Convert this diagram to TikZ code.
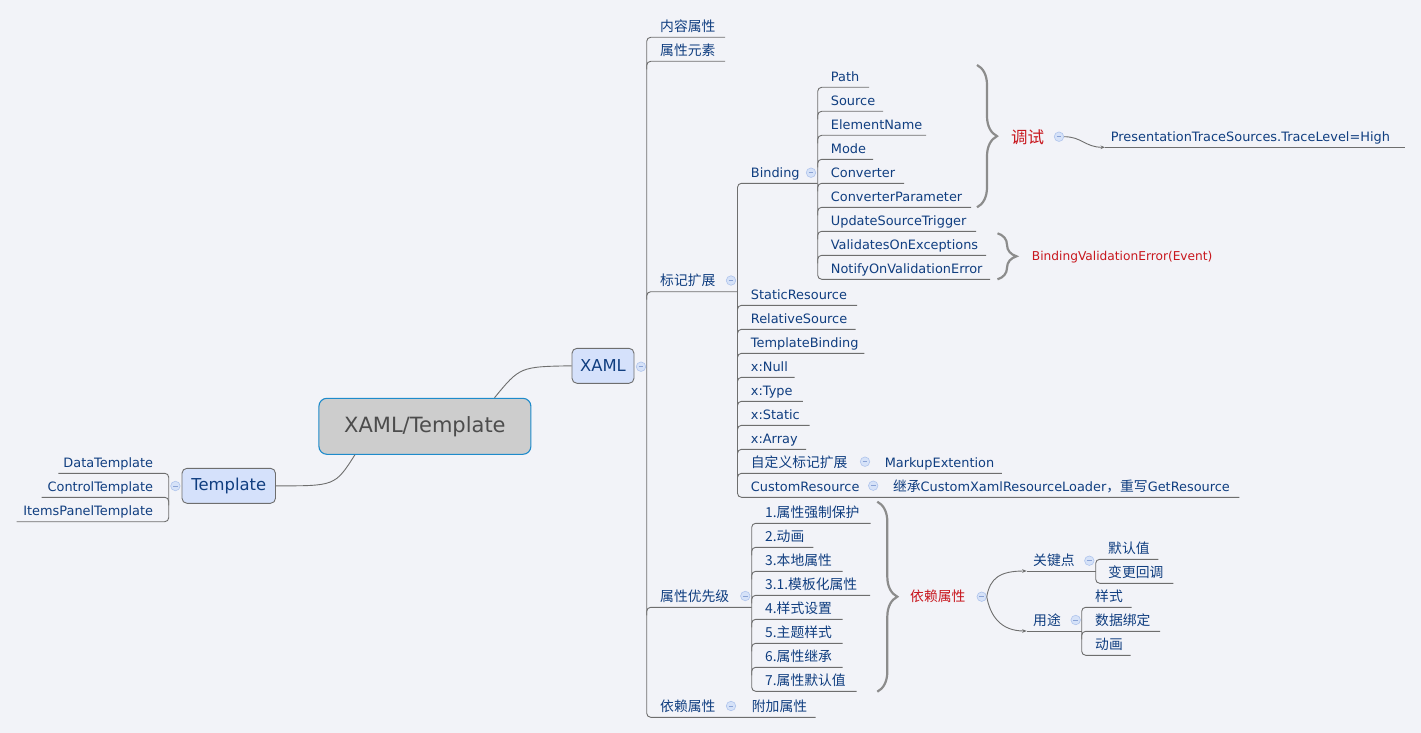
\documentclass[tikz,border=0pt]{standalone}
\usepackage{fontspec}
\setmainfont{DejaVu Sans}
\newfontfamily\cjk{Noto Sans CJK SC}
\usetikzlibrary{arrows.meta,decorations.pathreplacing,calc}
\definecolor{bgc}{HTML}{F2F3F8}
\definecolor{txc}{HTML}{103E80}
\definecolor{lnc}{HTML}{6E6E6E}
\definecolor{rdc}{HTML}{C8161D}
\definecolor{cfill}{HTML}{D6E2F8}
\definecolor{cdraw}{HTML}{AFC4EC}
\definecolor{cminus}{HTML}{8AA3D6}
\definecolor{bxfill}{HTML}{D5E1FB}
\definecolor{cbfill}{HTML}{CDCDCD}
\definecolor{cbdraw}{HTML}{1E8BCB}
\definecolor{brc}{HTML}{8C8C8C}
\newcommand\zhs{\cjk\fontsize{13.8}{16}\selectfont}
\newcommand\lts{\fontsize{12.9}{15}\selectfont}
% leaf: name, spine x, text x, underline y, end x, text
\newcommand\lf[6]{\node[leaf] (#1) at (#3,#4-6) {#6};
  \coordinate (#1s) at (#2,#4); \coordinate (#1m) at (#2,#4+8); \coordinate (#1e) at (#5,#4);}
\newcommand\lfl[6]{\node[leafl] (#1) at (#3,#4-6) {#6};
  \coordinate (#1s) at (#2,#4); \coordinate (#1m) at (#2,#4+8); \coordinate (#1e) at (#5,#4);}
\begin{document}
\begin{tikzpicture}[x=1pt,y=-1pt,
  leaf/.style={anchor=base west, inner sep=0pt, text=txc, font=\lts},
  leafl/.style={leaf, anchor=base east},
  redtxt/.style={anchor=base west, inner sep=0pt, text=rdc},
  ln/.style={draw=lnc, line width=0.9pt, rounded corners=4pt},
  curve/.style={draw=lnc, line width=0.9pt, -{Stealth[length=4.5pt,width=3.5pt]}},
  coll/.style={circle, draw=cdraw, fill=cfill, line width=0.6pt, minimum size=9.5pt, inner sep=0pt,
     path picture={\draw[draw=cminus, line width=0.8pt]
       ([xshift=-2.4pt]path picture bounding box.center) -- ([xshift=2.4pt]path picture bounding box.center);}},
  brc/.style={draw=brc, line width=2.2pt, decorate},
  topic/.style={draw=lnc, fill=bxfill, rounded corners=5pt, line width=0.9pt, text=txc,
     font=\fontsize{16.4}{19}\selectfont, minimum height=35pt, inner sep=0pt},
]
\fill[bgc] (0,0) rectangle (1421,733);
\useasboundingbox (0,0) rectangle (1421,733);

% main topics
\node[draw=cbdraw, fill=cbfill, rounded corners=8pt, line width=1.1pt, minimum width=212pt,
  minimum height=56pt, text=black!70, font=\fontsize{21}{24}\selectfont] (central) at (424.9,426.3) {XAML/Template};
\node[topic, minimum width=62pt] (xaml) at (603,365.8) {XAML};
\node[topic, minimum width=93.5pt] (tmpl) at (228.75,485.8) {Template};
\draw[ln] ($(central.north)+(69.6,0)$) .. controls (520,366.7) .. (xaml.west);
\draw[ln] ($(central.south)+(-70,0)$) .. controls (335,486) .. (tmpl.east);

% Template children
\lfl{t1}{168.75}{153.3}{473.3}{58.3}{DataTemplate}
\lfl{t2}{168.75}{153.3}{497.3}{41.7}{ControlTemplate}
\lfl{t3}{168.75}{153.3}{521.7}{16.7}{ItemsPanelTemplate}
\draw[ln] (t1e) -- (t1s) -- (t3s) -- (t3e);
\draw[ln] (t2m) |- (t2e);

% XAML children
\lf{k1}{646.7}{660}{37.3}{725}{\zhs 内容属性}
\lf{k2}{646.7}{660}{61.3}{725}{\zhs 属性元素}
\lf{k3}{646.7}{660}{291.7}{737.5}{\zhs 标记扩展}
\lf{k4}{646.7}{660}{607.3}{751.7}{\zhs 属性优先级}
\lf{k5}{646.7}{660}{717.3}{815.7}{\zhs 依赖属性}
\node[leaf] (k5a) at (751.7,711.3) {\zhs 附加属性};
\draw[ln] (k1e) -- (k1s) -- (k5s) -- (k5e);
\foreach \n in {k2,k3,k4} \draw[ln] (\n m) |- (\n e);

% markup extension children
\lf{b0}{737.5}{750.7}{183.3}{817.7}{Binding}
\lf{m1}{737.5}{750.7}{305.3}{857}{StaticResource}
\lf{m2}{737.5}{750.7}{329.3}{855.7}{RelativeSource}
\lf{m3}{737.5}{750.7}{353.3}{864.3}{TemplateBinding}
\lf{m4}{737.5}{750.7}{377.3}{794.6}{x:Null}
\lf{m5}{737.5}{750.7}{401.3}{802.9}{x:Type}
\lf{m6}{737.5}{750.7}{425.3}{809.6}{x:Static}
\lf{m7}{737.5}{750.7}{449.3}{806}{x:Array}
\lf{m8}{737.5}{750.7}{473.3}{1001.8}{\zhs 自定义标记扩展}
\lf{m9}{737.5}{750.7}{497.3}{1239.3}{CustomResource}
\node[leaf] (m8a) at (884.6,467.3) {MarkupExtention};
\node[leaf] (m9a) at (892.9,491.3) {{\zhs 继承}CustomXamlResourceLoader{\zhs ，重写}GetResource};
\draw[ln] (b0e) -- (b0s) -- (m9s) -- (m9e);
\foreach \n in {m1,m2,m3,m4,m5,m6,m7,m8} \draw[ln] (\n m) |- (\n e);

% Binding children
\lf{b1}{817.7}{830.7}{87.3}{869}{Path}
\lf{b2}{817.7}{830.7}{111.3}{883}{Source}
\lf{b3}{817.7}{830.7}{135.3}{926}{ElementName}
\lf{b4}{817.7}{830.7}{159.3}{873}{Mode}
\lf{b5}{817.7}{830.7}{183.3}{904}{Converter}
\lf{b6}{817.7}{830.7}{207.3}{971}{ConverterParameter}
\lf{b7}{817.7}{830.7}{231.3}{976}{UpdateSourceTrigger}
\lf{b8}{817.7}{830.7}{255.3}{986}{ValidatesOnExceptions}
\lf{b9}{817.7}{830.7}{279.3}{990}{NotifyOnValidationError}
\draw[ln] (b1e) -- (b1s) -- (b9s) -- (b9e);
\foreach \n in {b2,b3,b4,b5,b6,b7,b8} \draw[ln] (\n m) |- (\n e);

% priority children
\lf{p1}{751.7}{765}{523.3}{870.7}{\zhs 1.属性强制保护}
\lf{p2}{751.7}{765}{547.3}{813.3}{\zhs 2.动画}
\lf{p3}{751.7}{765}{571.3}{842.7}{\zhs 3.本地属性}
\lf{p4}{751.7}{765}{595.3}{870}{\zhs 3.1.模板化属性}
\lf{p5}{751.7}{765}{619.3}{842.7}{\zhs 4.样式设置}
\lf{p6}{751.7}{765}{643.3}{842.7}{\zhs 5.主题样式}
\lf{p7}{751.7}{765}{667.3}{842.7}{\zhs 6.属性继承}
\lf{p8}{751.7}{765}{691.3}{856.7}{\zhs 7.属性默认值}
\draw[ln] (p1e) -- (p1s) -- (p8s) -- (p8e);
\foreach \n in {p2,p3,p4,p5,p6,p7} \draw[ln] (\n m) |- (\n e);

% braces
\draw[brc, decoration={brace,amplitude=20pt}] (977,65) -- (977,207.3);
\draw[brc, decoration={brace,amplitude=19pt}] (997.5,233.3) -- (997.5,279.3);
\draw[brc, decoration={brace,amplitude=20pt}] (877.3,501.7) -- (877.3,691.7);

% summaries
\node[redtxt, font=\cjk\fontsize{16.5}{19}\selectfont] (dbg) at (1011,143) {调试};
\node[redtxt, font=\fontsize{12.2}{14}\selectfont] (bve) at (1031.7,260) {BindingValidationError(Event)};
\node[redtxt, font=\zhs] (dep) at (910,601.3) {依赖属性};

\node[leaf] (pts) at (1110.7,141.3) {PresentationTraceSources.TraceLevel=High};
\coordinate (ptss) at (1105,147.3); \coordinate (ptse) at (1405,147.3);
\draw[ln] (ptss) -- (ptse);

\node[leaf] (gj) at (1033,565) {\zhs 关键点};
\coordinate (gjs) at (1026.7,571); \coordinate (gje) at (1095.7,571);
\draw[ln] (gjs) -- (gje);
\node[leaf] (yt) at (1033,625) {\zhs 用途};
\coordinate (yts) at (1026.7,631); \coordinate (yte) at (1081.7,631);
\draw[ln] (yts) -- (yte);

\lf{d1}{1095.7}{1108}{559.3}{1158.3}{\zhs 默认值}
\lf{d2}{1095.7}{1108}{583.3}{1173.3}{\zhs 变更回调}
\draw[ln] (d1e) -- (d1s) -- (d2s) -- (d2e);
\lf{u1}{1081.7}{1095}{607.3}{1131.7}{\zhs 样式}
\lf{u2}{1081.7}{1095}{631.3}{1160}{\zhs 数据绑定}
\lf{u3}{1081.7}{1095}{655.3}{1130.7}{\zhs 动画}
\draw[ln] (u1e) -- (u1s) -- (u3s) -- (u3e);
\draw[ln] (u2m) |- (u2e);

% collapse markers
\node[coll] (cX) at (641,366.7) {};
\node[coll] (cT) at (175.4,486) {};
\node[coll] (c3) at (731,280.5) {};
\node[coll] (c4) at (745.3,596) {};
\node[coll] (c5) at (731,706) {};
\node[coll] (cB) at (811,172.7) {};
\node[coll] (cM8) at (865,461.7) {};
\node[coll] (cM9) at (873.2,485.7) {};
\node[coll] (cD) at (1059,136.7) {};
\node[coll] (cR) at (981.7,596.7) {};
\node[coll] (cG) at (1089.3,560.7) {};
\node[coll] (cY) at (1075.7,620) {};

% curved connectors
\draw[curve] (cD.east) .. controls (1082,136.7) and (1085,147.3) .. (ptss);
\draw[curve] (cR.east) .. controls (990,578) and (1000,571) .. (gjs);
\draw[curve] (cR.east) .. controls (990,615) and (1000,631) .. (yts);
\end{tikzpicture}
\end{document}
